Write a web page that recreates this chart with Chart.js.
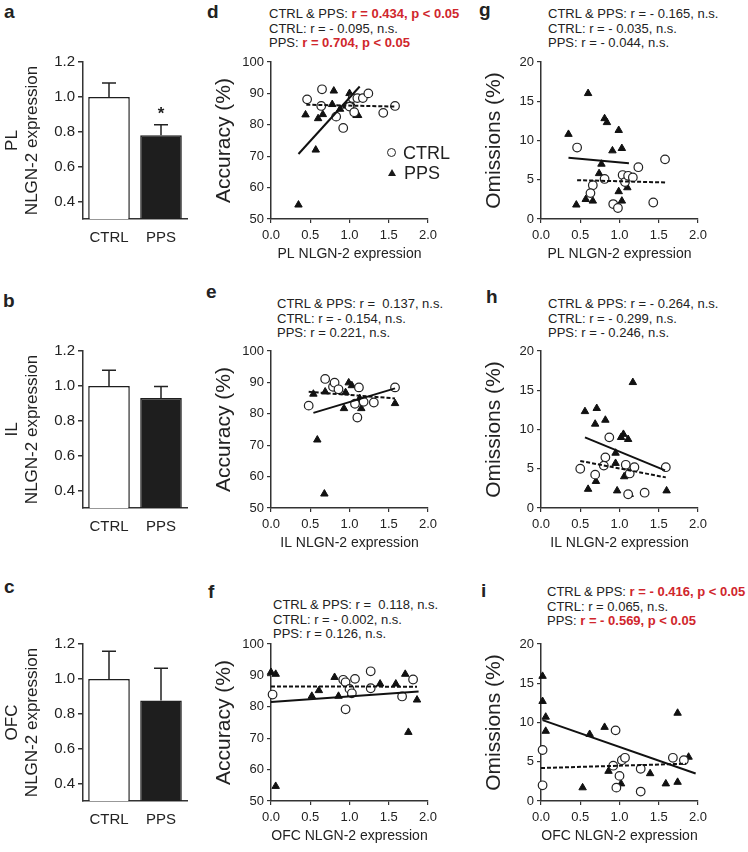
<!DOCTYPE html>
<html>
<head>
<meta charset="utf-8">
<script src="https://cdn.jsdelivr.net/npm/chart.js@4.4.1/dist/chart.umd.min.js"></script>
<style>
  body { margin: 0; background: #fff; }
  #fig { position: relative; width: 748px; height: 852px; overflow: hidden;
         font-family: "Liberation Sans", Arial, sans-serif; color: #222; }
  #fig canvas { position: absolute; }
  .letter { position: absolute; font-weight: bold; font-size: 19px; line-height: 19px; }
  .stats { position: absolute; font-size: 13px; line-height: 14.5px; white-space: nowrap; }
  .sig { color: #d0262c; font-weight: bold; }
  .legend { position: absolute; font-size: 18px; line-height: 20px; }
  .legend div { white-space: nowrap; }
  .circ { display: inline-block; width: 7px; height: 7px; border: 1.3px solid #222; border-radius: 50%;
          margin-right: 7px; vertical-align: 2px; }
  .tri { display: inline-block; width: 0; height: 0; border-left: 4px solid transparent;
         border-right: 4px solid transparent; border-bottom: 7px solid #1a1a1a;
         margin: 0 8px 0 1px; vertical-align: 3px; }
</style>
</head>
<body>
<div id="fig">
  <div class="letter" style="left:4px;top:2px">a</div>
  <div class="letter" style="left:3px;top:291px">b</div>
  <div class="letter" style="left:4px;top:577px">c</div>
  <div class="letter" style="left:207px;top:2px">d</div>
  <div class="letter" style="left:206px;top:282px">e</div>
  <div class="letter" style="left:208px;top:582px">f</div>
  <div class="letter" style="left:479px;top:0px">g</div>
  <div class="letter" style="left:486px;top:287px">h</div>
  <div class="letter" style="left:481px;top:581px">i</div>

  <div class="stats" style="left:269px;top:7px">
    <div>CTRL &amp; PPS: <span class="sig">r = 0.434, p &lt; 0.05</span></div>
    <div>CTRL: r = - 0.095, n.s.</div>
    <div>PPS: <span class="sig">r = 0.704, p &lt; 0.05</span></div>
  </div>
  <div class="stats" style="left:548px;top:7px">
    <div>CTRL &amp; PPS: r = - 0.165, n.s.</div>
    <div>CTRL: r = - 0.035, n.s.</div>
    <div>PPS: r = - 0.044, n.s.</div>
  </div>
  <div class="stats" style="left:277px;top:297px">
    <div>CTRL &amp; PPS: r = &nbsp;0.137, n.s.</div>
    <div>CTRL: r = - 0.154, n.s.</div>
    <div>PPS: r = 0.221, n.s.</div>
  </div>
  <div class="stats" style="left:548px;top:297px">
    <div>CTRL &amp; PPS: r = - 0.264, n.s.</div>
    <div>CTRL: r = - 0.299, n.s.</div>
    <div>PPS: r = - 0.246, n.s.</div>
  </div>
  <div class="stats" style="left:273px;top:598px">
    <div>CTRL &amp; PPS: r = &nbsp;0.118, n.s.</div>
    <div>CTRL: r = - 0.002, n.s.</div>
    <div>PPS: r = 0.126, n.s.</div>
  </div>
  <div class="stats" style="left:547px;top:585px">
    <div>CTRL &amp; PPS: <span class="sig">r = - 0.416, p &lt; 0.05</span></div>
    <div>CTRL: r = 0.065, n.s.</div>
    <div>PPS: <span class="sig">r = - 0.569, p &lt; 0.05</span></div>
  </div>

  <canvas id="barPL" width="200" height="230" style="left:0px;top:40px"></canvas>
  <canvas id="barIL" width="200" height="230" style="left:0px;top:329px"></canvas>
  <canvas id="barOFC" width="200" height="230" style="left:0px;top:622px"></canvas>
  <canvas id="accPL" width="250" height="219" style="left:200px;top:50px"></canvas>
  <canvas id="accIL" width="250" height="219" style="left:200px;top:339px"></canvas>
  <canvas id="accOFC" width="250" height="219" style="left:200px;top:632px"></canvas>
  <canvas id="omPL" width="250" height="219" style="left:470px;top:50px"></canvas>
  <canvas id="omIL" width="250" height="219" style="left:470px;top:339px"></canvas>
  <canvas id="omOFC" width="250" height="219" style="left:470px;top:632px"></canvas>

  <div class="legend" style="left:387px;top:143px">
    <div><span class="circ"></span>CTRL</div>
    <div><span class="tri"></span>PPS</div>
  </div>
</div>

<script>
// ---- bar panels (a-c)
const groups = ["CTRL", "PPS"];
const barTicks = [0.4, 0.6, 0.8, 1.0, 1.2];
const plMean = [1.00, 0.78];
const plSem = [0.08, 0.06];
const plMarks = ["", "*"];
const ilMean = [1.00, 0.93];
const ilSem = [0.09, 0.066];
const ofcMean = [1.00, 0.876];
const ofcSem = [0.158, 0.185];

// ---- scatter panels (d-i), points as [expression, value]
const exprTicks = [0, 0.5, 1.0, 1.5, 2.0];
const accTicks = [50, 60, 70, 80, 90, 100];
const omTicks = [0, 5, 10, 15, 20];

const accPLCtrl = [[0.46, 88.1], [0.65, 91.3], [0.64, 86.0], [0.83, 82.6], [0.92, 79.0], [1.00, 85.8],
  [1.04, 88.5], [1.06, 84.0], [1.10, 88.5], [1.17, 88.5], [1.24, 90.0], [1.43, 83.8], [1.58, 86.0]];
const accPLPps = [[0.35, 54.5], [0.44, 83.2], [0.57, 72.0], [0.60, 82.0], [0.66, 83.3], [0.80, 90.8],
  [0.78, 86.5], [0.88, 85.0], [0.96, 86.0], [1.00, 90.0], [1.02, 87.0], [1.09, 83.0], [1.11, 83.0]];
const accPLCtrlFit = [[0.45, 86.4], [1.58, 85.8]];
const accPLPpsFit = [[0.35, 70.7], [1.13, 92.2]];

const omPLCtrl = [[0.46, 9.1], [0.66, 4.3], [0.63, 3.3], [0.81, 5.1], [0.92, 1.9], [0.98, 1.4], [1.04, 5.6],
  [1.07, 4.7], [1.11, 5.5], [1.17, 5.3], [1.24, 6.6], [1.43, 2.1], [1.58, 7.6]];
const omPLPps = [[0.35, 10.8], [0.45, 1.8], [0.57, 2.5], [0.60, 16.0], [0.66, 2.3], [0.74, 5.8], [0.77, 7.0],
  [0.81, 12.8], [0.84, 12.3], [0.91, 8.7], [0.99, 11.3], [0.99, 3.5], [1.03, 9.0], [1.03, 2.3], [1.10, 4.0]];
const omPLCtrlFit = [[0.46, 4.95], [1.6, 4.65]];
const omPLPpsFit = [[0.35, 7.8], [1.12, 7.1]];

const accILCtrl = [[0.48, 82.6], [0.69, 91.1], [0.79, 88.6], [0.81, 89.9], [0.86, 87.8], [1.07, 83.2],
  [1.10, 78.8], [1.12, 88.4], [1.18, 83.8], [1.31, 83.6], [1.58, 88.4]];
const accILPps = [[0.54, 86.3], [0.59, 71.7], [0.68, 54.5], [0.69, 91.0], [0.69, 87.0], [0.93, 81.7],
  [0.95, 86.8], [0.99, 89.9], [1.03, 89.0], [1.07, 83.1], [1.13, 84.9], [1.15, 81.7], [1.58, 83.3]];
const accILCtrlFit = [[0.48, 87.0], [1.58, 84.9]];
const accILPpsFit = [[0.54, 80.3], [1.58, 88.1]];

const omILCtrl = [[0.50, 5.0], [0.69, 4.25], [0.80, 5.4], [0.82, 6.45], [0.87, 9.0], [1.08, 5.5], [1.11, 1.75],
  [1.13, 4.4], [1.19, 5.2], [1.32, 1.95], [1.59, 5.2]];
const omILPps = [[0.56, 12.3], [0.60, 2.4], [0.69, 10.7], [0.70, 3.4], [0.71, 12.7], [0.82, 11.2], [0.95, 7.0],
  [0.95, 5.7], [0.97, 2.2], [1.02, 9.0], [1.05, 9.4], [1.06, 4.0], [1.11, 8.75], [1.13, 1.75], [1.17, 16.0], [1.60, 2.2]];
const omILCtrlFit = [[0.50, 6.0], [1.59, 3.9]];
const omILPpsFit = [[0.56, 9.0], [1.58, 4.8]];

const accOFCCtrl = [[0.02, 83.9], [0.92, 88.6], [0.95, 87.8], [0.95, 79.2], [1.00, 85.7], [1.03, 84.3],
  [1.07, 88.9], [1.27, 91.3], [1.27, 85.9], [1.67, 83.3], [1.81, 88.7]];
const accOFCPps = [[0.00, 91.0], [0.06, 90.4], [0.06, 54.7], [0.52, 83.4], [0.61, 85.2], [0.81, 89.4],
  [0.86, 83.4], [1.02, 84.1], [1.39, 87.3], [1.59, 87.3], [1.71, 90.4], [1.75, 71.9], [1.86, 82.2]];
const accOFCCtrlFit = [[0.0, 86.5], [1.86, 86.4]];
const accOFCPpsFit = [[0.0, 81.5], [1.88, 84.9]];

const omOFCCtrl = [[0.02, 6.5], [0.02, 2.0], [0.92, 4.5], [0.95, 9.0], [0.96, 1.7], [1.00, 3.2], [1.03, 5.2],
  [1.07, 5.5], [1.27, 4.1], [1.27, 1.2], [1.68, 5.5], [1.82, 5.2]];
const omOFCPps = [[0.02, 15.9], [0.02, 12.7], [0.06, 10.7], [0.06, 8.9], [0.53, 1.7], [0.62, 8.5], [0.81, 9.4],
  [0.86, 3.8], [1.02, 2.2], [1.39, 3.5], [1.59, 2.2], [1.74, 2.4], [1.74, 11.2], [1.88, 5.6]];
const omOFCCtrlFit = [[0.0, 4.2], [1.85, 4.75]];
const omOFCPpsFit = [[0.02, 10.3], [1.97, 3.5]];

const FONT = '"Liberation Sans", Arial, sans-serif';
const INK = "#222";

// draws the upper half of the error bar (and a significance mark) on each bar
const errorBars = {
  id: "errorBars",
  afterDatasetsDraw(chart, args, opts) {
    const ctx = chart.ctx;
    const y = chart.scales.y;
    ctx.save();
    ctx.strokeStyle = INK;
    ctx.fillStyle = INK;
    ctx.lineWidth = 1.5;
    chart.getDatasetMeta(0).data.forEach((bar, i) => {
      const top = y.getPixelForValue(opts.mean[i] + opts.sem[i]);
      ctx.beginPath();
      ctx.moveTo(bar.x, bar.y);
      ctx.lineTo(bar.x, top);
      ctx.moveTo(bar.x - 7, top);
      ctx.lineTo(bar.x + 7, top);
      ctx.stroke();
      if (opts.marks && opts.marks[i]) {
        ctx.font = "bold 17px " + FONT;
        ctx.textAlign = "center";
        ctx.textBaseline = "middle";
        ctx.fillText(opts.marks[i], bar.x, top - 10);
      }
    });
    ctx.restore();
  }
};

function barChart(id, region, mean, sem, marks) {
  new Chart(document.getElementById(id), {
    type: "bar",
    data: {
      labels: groups,
      datasets: [{
        data: mean,
        backgroundColor: ["#ffffff", "#1e1e1e"],
        borderColor: "#1e1e1e",
        borderWidth: 1.5,
        categoryPercentage: 1,
        barPercentage: 0.8
      }]
    },
    options: {
      responsive: false,
      animation: false,
      layout: { padding: { left: 0, right: 13, top: 22, bottom: 0 } },
      plugins: {
        legend: { display: false },
        tooltip: { enabled: false },
        errorBars: { mean: mean, sem: sem, marks: marks }
      },
      scales: {
        x: {
          grid: { display: false, drawTicks: false },
          border: { display: true, color: "#333", width: 1.5 },
          ticks: { padding: 10, color: INK, font: { size: 15, family: FONT } },
          afterFit: s => { s.height = 51; }
        },
        y: {
          min: 0.3,
          max: 1.2,
          afterBuildTicks: s => { s.ticks = barTicks.map(v => ({ value: v })); },
          ticks: { padding: 3, color: INK, font: { size: 15, family: FONT }, callback: v => v.toFixed(1) },
          grid: { drawOnChartArea: false, drawTicks: true, tickLength: 5, color: "#333", lineWidth: 1.5 },
          border: { display: true, color: "#333", width: 1.5 },
          title: {
            display: true,
            text: [region, "NLGN-2 expression"],
            color: INK,
            font: { size: 17, family: FONT, lineHeight: 1.18 },
            padding: { top: 2, bottom: 0 }
          },
          afterFit: s => { s.width = 83; }
        }
      }
    },
    plugins: [errorBars]
  });
}

function toXY(arr) {
  return arr.map(p => ({ x: p[0], y: p[1] }));
}

function scatterChart(id, xTitle, yTitle, yTicks, ctrl, pps, ctrlFit, ppsFit) {
  new Chart(document.getElementById(id), {
    type: "scatter",
    data: {
      datasets: [
        { label: "PPS fit", data: toXY(ppsFit), showLine: true, pointRadius: 0, borderColor: "#111",
          borderWidth: 2, clip: false },
        { label: "CTRL fit", data: toXY(ctrlFit), showLine: true, pointRadius: 0, borderColor: "#111",
          borderWidth: 2, borderDash: [4, 2], clip: false },
        { label: "CTRL", data: toXY(ctrl), pointStyle: "circle", pointRadius: 4.3, backgroundColor: "#fff",
          borderColor: "#222", borderWidth: 1.2, clip: false },
        { label: "PPS", data: toXY(pps), pointStyle: "triangle", pointRadius: 4.3, backgroundColor: "#111",
          borderColor: "#111", borderWidth: 1, clip: false }
      ]
    },
    options: {
      responsive: false,
      animation: false,
      layout: { padding: { left: 0, right: 22, top: 12, bottom: 0 } },
      plugins: { legend: { display: false }, tooltip: { enabled: false } },
      scales: {
        x: {
          min: 0,
          max: 2,
          afterBuildTicks: s => { s.ticks = exprTicks.map(v => ({ value: v })); },
          ticks: { padding: 5, color: INK, font: { size: 13, family: FONT }, callback: v => v.toFixed(1), maxRotation: 0 },
          grid: { drawOnChartArea: false, drawTicks: true, tickLength: 4, color: "#333", lineWidth: 1.2 },
          border: { display: true, color: "#333", width: 1.5 },
          title: { display: true, text: xTitle, color: INK, font: { size: 14, family: FONT },
                   padding: { top: 0, bottom: 6 } },
          afterFit: s => { s.height = 50; }
        },
        y: {
          min: yTicks[0],
          max: yTicks[yTicks.length - 1],
          afterBuildTicks: s => { s.ticks = yTicks.map(v => ({ value: v })); },
          ticks: { padding: 3, color: INK, font: { size: 13, family: FONT } },
          grid: { drawOnChartArea: false, drawTicks: true, tickLength: 4, color: "#333", lineWidth: 1.2 },
          border: { display: true, color: "#333", width: 1.5 },
          title: { display: true, text: yTitle, color: INK, font: { size: 21, family: FONT },
                   padding: { top: 12, bottom: 0 } },
          afterFit: s => { s.width = 71; }
        }
      }
    }
  });
}

barChart("barPL", "PL", plMean, plSem, plMarks);
barChart("barIL", "IL", ilMean, ilSem, null);
barChart("barOFC", "OFC", ofcMean, ofcSem, null);

scatterChart("accPL", "PL NLGN-2 expression", "Accuracy (%)", accTicks, accPLCtrl, accPLPps, accPLCtrlFit, accPLPpsFit);
scatterChart("accIL", "IL NLGN-2 expression", "Accuracy (%)", accTicks, accILCtrl, accILPps, accILCtrlFit, accILPpsFit);
scatterChart("accOFC", "OFC NLGN-2 expression", "Accuracy (%)", accTicks, accOFCCtrl, accOFCPps, accOFCCtrlFit, accOFCPpsFit);
scatterChart("omPL", "PL NLGN-2 expression", "Omissions (%)", omTicks, omPLCtrl, omPLPps, omPLCtrlFit, omPLPpsFit);
scatterChart("omIL", "IL NLGN-2 expression", "Omissions (%)", omTicks, omILCtrl, omILPps, omILCtrlFit, omILPpsFit);
scatterChart("omOFC", "OFC NLGN-2 expression", "Omissions (%)", omTicks, omOFCCtrl, omOFCPps, omOFCCtrlFit, omOFCPpsFit);
</script>
</body>
</html>
